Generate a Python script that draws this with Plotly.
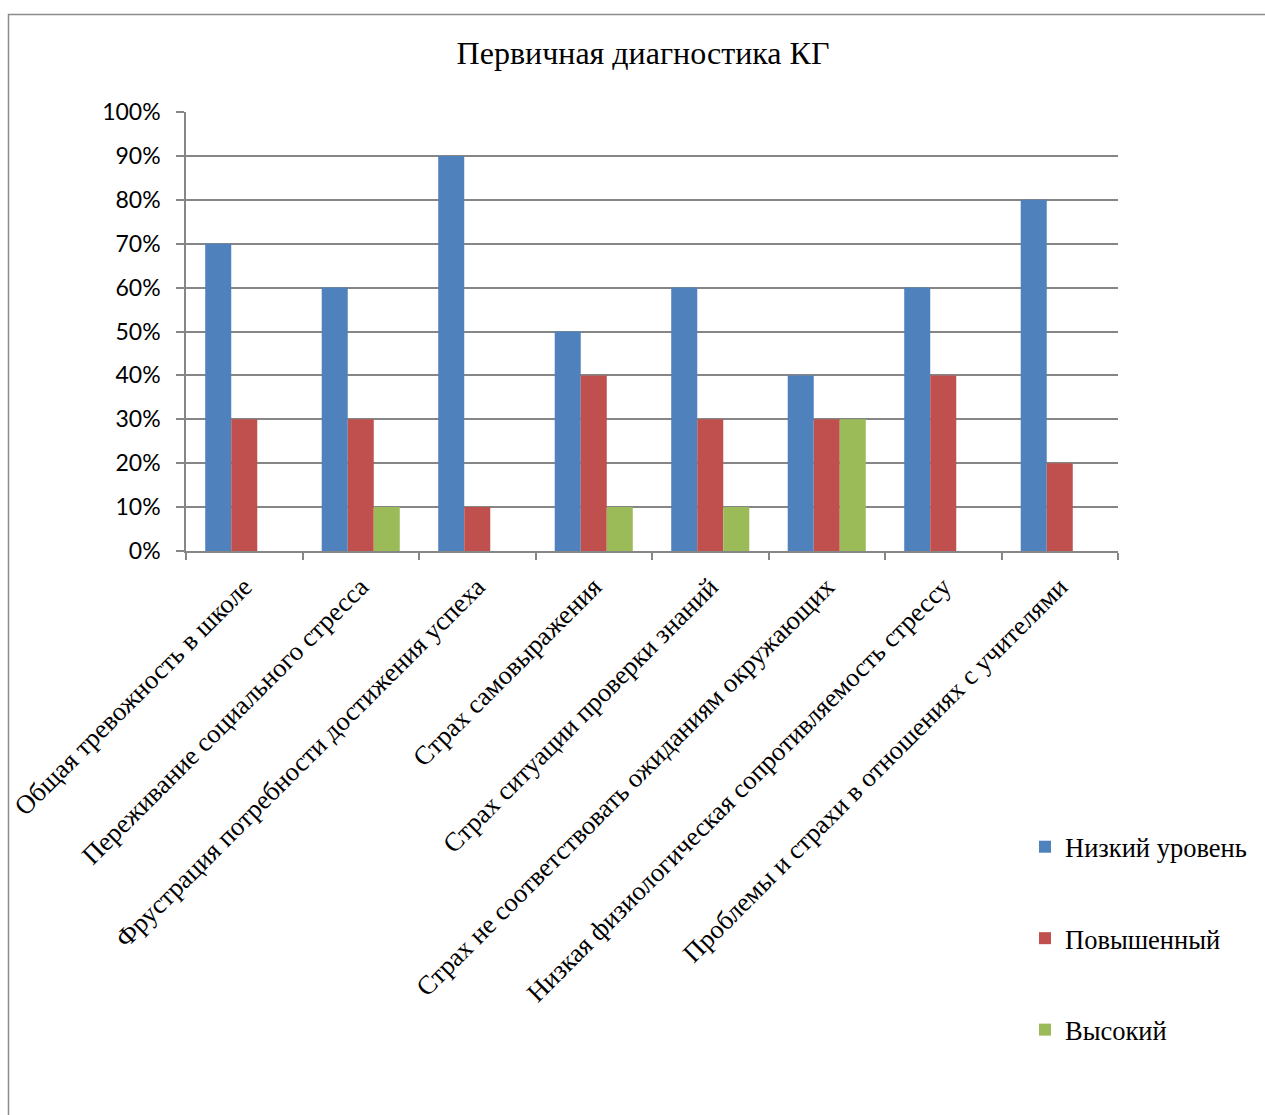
import plotly.graph_objects as go

categories = [
    "Общая тревожность в школе",
    "Переживание социального стресса",
    "Фрустрация потребности достижения успеха",
    "Страх самовыражения",
    "Страх ситуации проверки знаний",
    "Страх не соответствовать ожиданиям окружающих",
    "Низкая физиологическая сопротивляемость стрессу",
    "Проблемы и страхи в отношениях с учителями",
]
low = [0.70, 0.60, 0.90, 0.50, 0.60, 0.40, 0.60, 0.80]
elevated = [0.30, 0.30, 0.10, 0.40, 0.30, 0.30, 0.40, 0.20]
high = [0.00, 0.10, 0.00, 0.10, 0.10, 0.30, 0.00, 0.00]
series_names = ["Низкий уровень", "Повышенный", "Высокий"]
colors = ["#4F81BD", "#C0504D", "#9BBB59"]

W, H = 1265, 1115
L, R, T, B = 186, 1118, 112, 551
pw, ph = R - L, B - T

def px_x(x):
    return (x - L) / pw

def px_y(y):
    return (B - y) / ph

fig = go.Figure()
for name, vals, c in zip(series_names, [low, elevated, high], colors):
    fig.add_trace(go.Bar(x=categories, y=vals, name=name, marker=dict(color=c, line=dict(width=0)),
                         legendgroup=name))

serif = "Liberation Serif, Times New Roman, serif"
sans = "Lato, Carlito, Calibri, sans-serif"

fig.update_layout(
    width=W, height=H,
    margin=dict(l=L, r=W - R, t=T, b=H - B, autoexpand=False),
    paper_bgcolor="white", plot_bgcolor="white",
    barmode="group", bargap=0.33, bargroupgap=0,
    title=dict(text="Первичная диагностика КГ", x=643 / W, xanchor="center",
               y=1 - 53 / H, yanchor="middle", font=dict(family=serif, size=32, color="black")),
    font=dict(family=serif, color="black"),
    legend=dict(x=px_x(1025), y=px_y(823), xanchor="left", yanchor="top",
                font=dict(family=serif, size=26.5, color="black"),
                tracegroupgap=54, bgcolor="rgba(0,0,0,0)"),
    showlegend=True,
)
fig.update_xaxes(
    type="category", tickangle=-45, tickfont=dict(family=serif, size=26.5, color="black"),
    showline=True, linecolor="#868686", linewidth=1.5,
    ticks="outside", tickson="boundaries", ticklen=7, tickcolor="#868686", tickwidth=1.5,
    showgrid=False, ticklabelstandoff=8,
)
fig.update_yaxes(
    range=[0, 1], dtick=0.1, tickformat=".0%",
    tickfont=dict(family=sans, size=23, color="black"),
    showline=True, linecolor="#868686", linewidth=1.5,
    ticks="outside", ticklen=8, tickcolor="#868686", tickwidth=1.5,
    showgrid=True, gridcolor="#868686", gridwidth=1.5, zeroline=False,
    ticklabelstandoff=11,
)
fig.add_shape(type="rect", xref="paper", yref="paper",
              x0=px_x(8.5), x1=px_x(1300), y0=px_y(1200), y1=px_y(14.5),
              line=dict(color="#8C8C8C", width=1.5), fillcolor="rgba(0,0,0,0)", layer="below")

fig.write_html("out.html")
